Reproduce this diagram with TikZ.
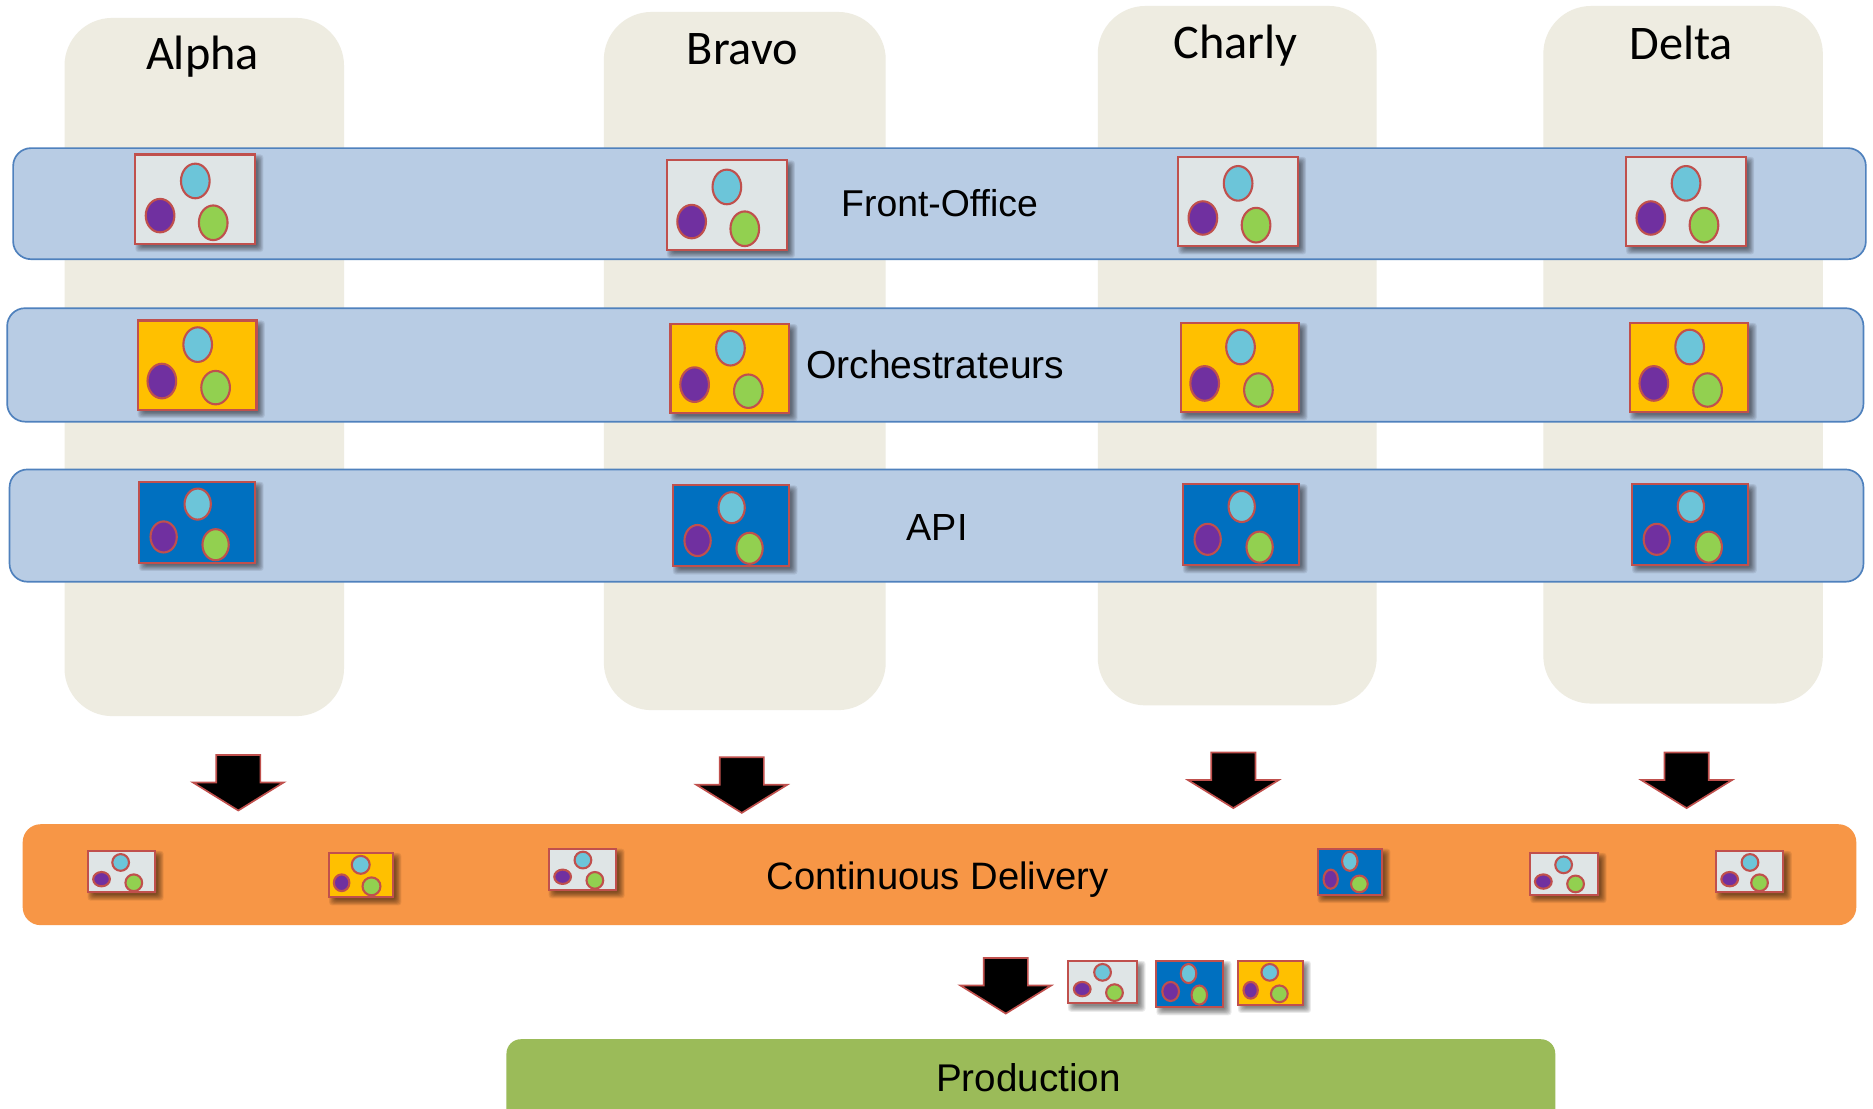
\documentclass[tikz,border=0pt]{standalone}
\usepackage{fontspec}
\setmainfont{Liberation Sans}
\newfontfamily\headfont{Carlito}
\definecolor{colbg}{HTML}{EEECE1}
\definecolor{bandbg}{HTML}{B8CCE4}
\definecolor{bandline}{HTML}{4F81BD}
\definecolor{cdbg}{HTML}{F79646}
\definecolor{prodbg}{HTML}{9BBB59}
\definecolor{redline}{HTML}{C0504D}
\definecolor{foicon}{HTML}{DFE5E6}
\definecolor{orchicon}{HTML}{FFC000}
\definecolor{apiicon}{HTML}{0070C0}
\definecolor{cblue}{HTML}{6CC5D9}
\definecolor{cpurple}{HTML}{7030A0}
\definecolor{cgreen}{HTML}{92D050}
\tikzset{
  x=0.02cm,y=-0.02cm,
  column/.style={fill=colbg,draw=none,rounded corners=0.8cm},
  band/.style={fill=bandbg,draw=bandline,line width=0.8pt,rounded corners=0.3cm},
  cdband/.style={fill=cdbg,draw=none,rounded corners=0.3cm},
  prodband/.style={fill=prodbg,draw=none,rounded corners=0.24cm},
  head/.style={font=\headfont\fontsize{23}{27}\selectfont,text=black,inner sep=0pt},
  label/.style={font=\fontsize{#1}{22}\selectfont,text=black,inner sep=0pt},
  label/.default=18.2,
  iconbox/.style={draw=redline,line width=1pt},
  blob/.style={draw=redline,line width=1pt},
  downarrow/.style={fill=black,draw=redline,line width=0.8pt,line join=miter},
}
% \icon{x0}{y0}{x1}{y1}{fill}{bx,by,rx,ry}{px,py,rx,ry}{gx,gy,rx,ry}
\newcommand{\blobat}[5]{\path[blob,fill=#1] (#2,#3) ellipse [x radius=#4,y radius=#5];}
\newcommand{\icon}[8]{%
  \foreach \g in {3.5,2.8,2.1,1.4,0.7,0,-0.7,-1.4}{
    \fill[black,opacity=0.075,rounded corners=0.05cm] ({#1+3.5-\g},{#2+3.5-\g}) rectangle ({#3+3.5+\g},{#4+3.5+\g});}
  \path[iconbox,fill=#5] (#1,#2) rectangle (#3,#4);
  \def\pa##1,##2,##3,##4;{\blobat{cblue}{##1}{##2}{##3}{##4}}\pa #6;
  \def\pb##1,##2,##3,##4;{\blobat{cpurple}{##1}{##2}{##3}{##4}}\pb #7;
  \def\pc##1,##2,##3,##4;{\blobat{cgreen}{##1}{##2}{##3}{##4}}\pc #8;
}
\newcommand{\foicn}[2]{\icon{#1+.3}{#2+.3}{#1+100.5}{#2+75}{foicon}{#1+50.5,#2+22.5,12,14.5}{#1+21,#2+51.5,12,14}{#1+65.5,#2+57.5,12,14.5}}
\newcommand{\orchicn}[2]{\icon{#1+.3}{#2+.3}{#1+99.7}{#2+75}{orchicon}{#1+50.5,#2+20.5,12,14.5}{#1+20.5,#2+51,12,14.5}{#1+65.5,#2+56.5,12,14}}
\newcommand{\apiicn}[2]{\icon{#1+.3}{#2+.3}{#1+97.7}{#2+68}{apiicon}{#1+49.5,#2+19,11,13}{#1+21,#2+46.5,11,13}{#1+64.5,#2+53,11,13}}
\newcommand{\bigarrow}[2]{%
  \path[downarrow] ({#1-18.5},#2) -- ({#1+18.5},#2) -- ({#1+18.5},{#2+23}) -- ({#1+38},{#2+23})
    -- (#1,{#2+46.5}) -- ({#1-38},{#2+23}) -- ({#1-18.5},{#2+23}) -- cycle;}
\begin{document}
\begin{tikzpicture}
\path[use as bounding box] (0,0) rectangle (1568,928.4);
\clip (0,0) rectangle (1568,928.4);
\fill[white] (0,0) rectangle (1568,928.4);
% columns
\path[column] (54,15) rectangle (288,599.5);
\path[column] (505.5,10) rectangle (741.5,594.5);
\path[column] (919,5) rectangle (1152.5,590.5);
\path[column] (1292,5) rectangle (1526,589);
\node[head] (alpha) at (169.5,47.5) {Alpha};
\node[head] (bravo) at (621.5,41.5) {Bravo};
\node[head] (charly) at (1034.5,38) {Charly};
\node[head] (delta) at (1407.5,36) {Delta};
% bands
\path[band] (11,124) rectangle (1562,217);
\path[band] (6,258) rectangle (1560,353);
\path[band] (8,393) rectangle (1560,487);
\node[label=17.8] (front) at (786.5,170) {Front-Office};
\node[label=18.6] (orch) at (783,305.5) {Orchestrateurs};
\node[label=18] (api) at (784.5,441.5) {API};
% large icons
\foicn{113}{129}\foicn{558}{134}\foicn{986}{131}\foicn{1361}{131}
\orchicn{115}{268}\orchicn{561}{271}\orchicn{988}{270}\orchicn{1364}{270}
\apiicn{116}{403}\apiicn{563}{406}\apiicn{990}{405}\apiicn{1366}{405}
% arrows
\bigarrow{199.5}{632}\bigarrow{621}{634}\bigarrow{1032.5}{630}\bigarrow{1412}{630}\bigarrow{842}{802}
% continuous delivery
\path[cdband] (19,690) rectangle (1554,774.5);
\node[label] (cd) at (785,736) {Continuous Delivery};
\icon{73.3}{712.3}{130}{747}{foicon}{101,722,7,7}{85,736,7,6}{112,739,7,7}
\icon{275.5}{714}{329}{751}{orchicon}{302,724,7.5,7.5}{286,739,6.5,7}{311,742,7.5,7.5}
\icon{459.3}{710.5}{516}{745}{foicon}{488,720,7,7}{471,734,7,6}{498,737,7,7}
\icon{1103}{710.5}{1157}{749}{apiicon}{1130,721,6.5,8}{1114,736,6,8}{1138,740,7,7}
\icon{1281}{714}{1338}{749}{foicon}{1309,724,7,7}{1292,738,7,6}{1319,740,7,7}
\icon{1436.3}{712.3}{1493}{747}{foicon}{1465,722,7,7}{1448,736,7,6}{1473,739,7,7}
% production row
\icon{894}{804.3}{952}{840}{foicon}{923,814,7,7}{906,828,7,6}{933,831,7,7}
\icon{968}{804.3}{1024}{843}{apiicon}{995,815,6.5,8}{980,830,7,8}{1004,833,6.5,8}
\icon{1036.3}{804.3}{1090.5}{841}{orchicon}{1063,814,7,7}{1047,829,6,7}{1071,832,7,7}
\path[prodband] (424,870) rectangle (1302,960);
\node[label=18.4] (prod) at (861,902) {Production};
\end{tikzpicture}
\end{document}
